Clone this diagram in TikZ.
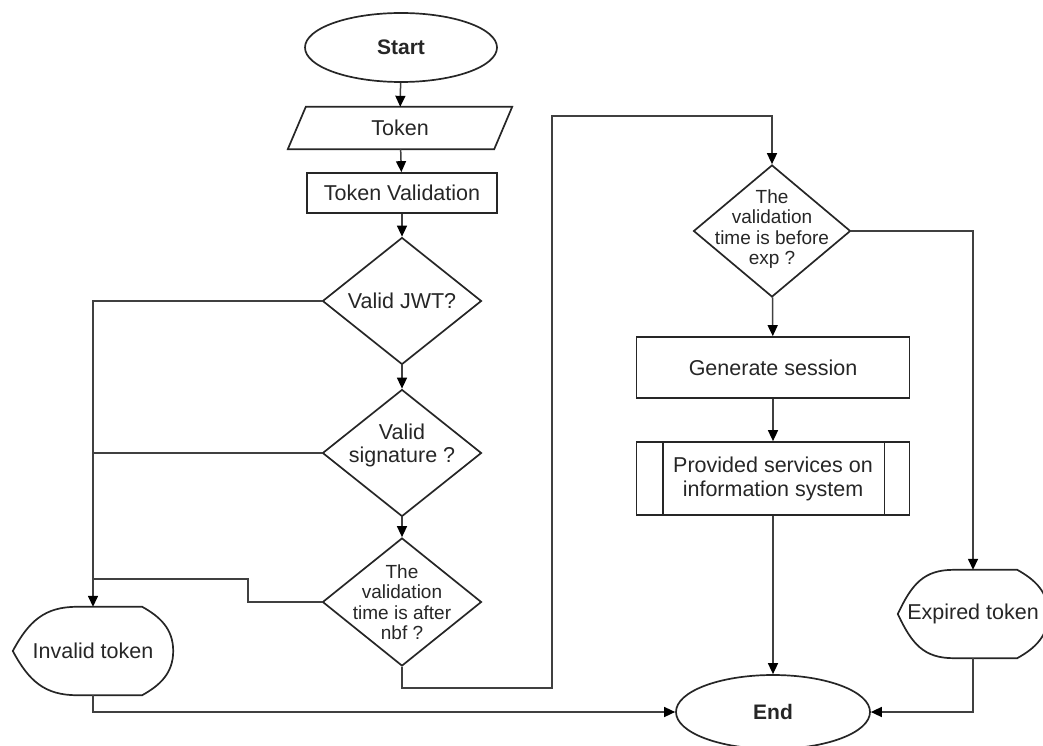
\documentclass[tikz,border=0pt]{standalone}
\usepackage{fontspec}
\setmainfont{Liberation Sans}
\usetikzlibrary{shapes.geometric,arrows.meta,calc}
\begin{document}
\begin{tikzpicture}[x=1pt,y=-1pt,
  shp/.style={draw=black!85, line width=1.7pt},
  line/.style={draw=black!75, line width=1.5pt},
  arr/.style={line, -{Triangle[length=11pt,width=10pt,fill=black,color=black]}},
  big/.style={text=black!85, font=\fontsize{21.5}{24}\selectfont},
  small/.style={text=black!85, font=\fontsize{19}{20.5}\selectfont, align=center},
  term/.style={ellipse, shp, inner sep=0pt, text=black!85, font=\fontsize{21}{24}\selectfont\bfseries},
  procbox/.style={rectangle, shp, inner sep=0pt, big},
  dia/.style={diamond, shp, inner sep=0pt},
  plain/.style={rectangle, inner sep=0pt, big},
]
\useasboundingbox (0,0) rectangle (1043,746);

% nodes
\node[term, minimum width=192, minimum height=69] (start) at (401,47.5) {Start};
\node[plain, minimum width=206, minimum height=42] (tok) at (400,128) {Token};
\draw[shp] ($(tok.north west)+(9,0)$) -- ($(tok.north east)+(9,0)$) -- ($(tok.south east)+(-9,0)$) -- ($(tok.south west)+(-9,0)$) -- cycle;
\node[procbox, minimum width=190, minimum height=40] (tv) at (402,193) {Token Validation};

\node[dia, minimum width=159, minimum height=127, label={[big]center:Valid JWT?}] (d1) at (402,301) {};
\node[dia, minimum width=159, minimum height=127, label={[big, align=center, yshift=8pt, font=\fontsize{21.5}{23}\selectfont]center:Valid\\signature ?}] (d2) at (402,453) {};
\node[dia, minimum width=159, minimum height=128, label={[small]center:The\\validation\\time is after\\nbf ?}] (d3) at (402,602) {};

\node[dia, minimum width=157, minimum height=132, label={[small, yshift=2pt]center:The\\validation\\time is before\\exp ?}] (d4) at (772,231) {};
\node[procbox, minimum width=273, minimum height=61] (gen) at (773,367.5) {Generate session};
\node[procbox, minimum width=273, minimum height=73, align=center, font=\fontsize{21.5}{24}\selectfont] (prov) at (773,478.5) {Provided services on\\information system};
\draw[shp] ($(prov.north west)+(27,0)$) -- ($(prov.south west)+(27,0)$);
\draw[shp] ($(prov.north east)+(-26,0)$) -- ($(prov.south east)+(-26,0)$);

\node[term, minimum width=194, minimum height=74] (end) at (773,712) {End};

% display shapes
\node[plain, minimum width=160, minimum height=88] (inv) at (93,651) {Invalid token};
\draw[shp] (inv.west) .. controls +(16,-30) and +(-32,0) .. ($(inv.north west)+(64,0)$)
  -- ($(inv.north east)+(-31,0)$) .. controls +(18,10) and +(0,-22) .. (inv.east)
  .. controls +(0,22) and +(18,-10) .. ($(inv.south east)+(-31,0)$)
  -- ($(inv.south west)+(64,0)$) .. controls +(-32,0) and +(16,30) .. (inv.west) -- cycle;

\node[plain, minimum width=150, minimum height=88] (exp) at (973,614) {Expired token};
\draw[shp] (exp.west) .. controls +(14,-30) and +(-30,0) .. ($(exp.north west)+(56,0)$)
  -- ($(exp.north east)+(-31,0)$) .. controls +(18,10) and +(0,-22) .. (exp.east)
  .. controls +(0,22) and +(18,-10) .. ($(exp.south east)+(-31,0)$)
  -- ($(exp.south west)+(56,0)$) .. controls +(-30,0) and +(14,30) .. (exp.west) -- cycle;

% helper coordinates
\coordinate (j3) at (248,579);
\coordinate (lb) at (552,688);
\coordinate (lt) at (552,116);

% connectors
\draw[arr] (start) -- (tok);
\draw[arr] (tok) -- (tv);
\draw[arr] (tv) -- (d1);
\draw[arr] (d1) -- (d2);
\draw[arr] (d2) -- (d3);
\draw[arr] (d1.west) -| (inv.north);
\draw[line] (d2.west) -- (d2.west -| inv.north);
\draw[line] (d3.west) -| (j3) -- (j3 -| inv.north);
\draw[arr] (inv.south) |- (end.west);
\draw[arr] (d3.south) |- (lb) -- (lt) -| (d4.north);
\draw[arr] (d4) -- (gen);
\draw[arr] (gen) -- (prov);
\draw[arr] (prov) -- (end);
\draw[arr] (d4.east) -| (exp.north);
\draw[arr] (exp.south) |- (end.east);
\end{tikzpicture}
\end{document}
